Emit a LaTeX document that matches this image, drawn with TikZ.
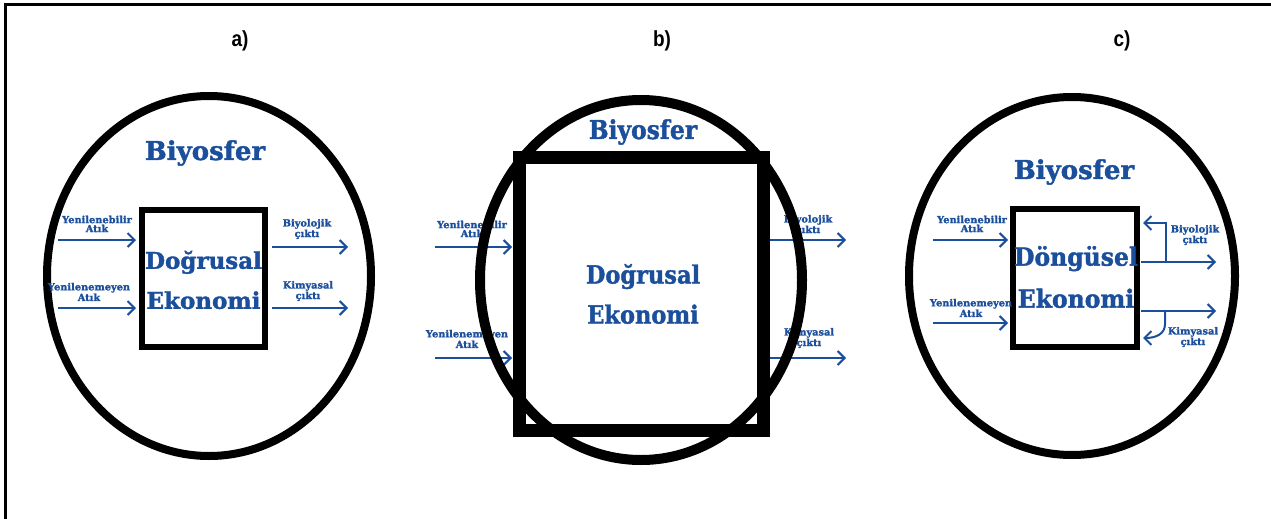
\documentclass[tikz,border=0pt]{standalone}
\usepackage{fontspec}
\setmainfont{DejaVu Serif}
\newfontfamily\heavyserif[FakeBold=1.6]{DejaVu Serif Bold}
\newfontfamily\lblfont{Liberation Sans}
\usetikzlibrary{arrows.meta}
\definecolor{bioblue}{HTML}{1B4F9C}
\tikzset{
  frameline/.style={line width=3pt, black},
  biosphere/.style={draw=black, line width=8pt},
  flow/.style={draw=bioblue, line width=2pt, -{Straight Barb[length=7pt,width=14pt,line width=2pt]}},
  small/.style={text=bioblue, font=\heavyserif\fontsize{9.8}{9}\selectfont, align=center, inner sep=0pt},
  big/.style={text=bioblue, font=\heavyserif\fontsize{24}{32}\selectfont, align=center, inner sep=0pt},
  panel/.style={font=\lblfont\bfseries\fontsize{19}{19}\selectfont, inner sep=0pt, yscale=1.15}
}
\begin{document}
\begin{tikzpicture}[x=1pt,y=-1pt]
\useasboundingbox (0,0) rectangle (1271,519);
% frame (top and left only)
\coordinate (f1) at (1271,5);
\coordinate (f0) at (5,5);
\coordinate (f2) at (5,519);
\draw[frameline] (f1) -- (f0) -- (f2);
% panel labels
\node[panel] (la) at (240,41) {a)};
\node[panel] (lb) at (662,41) {b)};
\node[panel] (lc) at (1122,41) {c)};

% ================= panel a =================
\draw[biosphere] (209,276) ellipse [x radius=162, y radius=180];
\node[draw=black, line width=6pt, minimum width=123pt, minimum height=137pt, inner sep=0pt] (boxa) at (203.5,278.5) {};
\node[big, font=\heavyserif\fontsize{26}{32}\selectfont] (bioa) at (205,153) {Biyosfer};
\node[big, font=\heavyserif\fontsize{23}{40}\selectfont] (eca) at (203.5,280) {Doğrusal\\Ekonomi};
\node[small] (ya1) at (97,224) {Yenilenebilir\\Atık};
\node[small] (ya2) at (89,292) {Yenilenemeyen\\Atık};
\node[small] (oa1) at (307,229) {Biyolojik\\çıktı};
\node[small] (oa2) at (308,291) {Kimyasal\\çıktı};
\coordinate (a1s) at (58,240); \coordinate (a1e) at (136,240);
\coordinate (a2s) at (58,308); \coordinate (a2e) at (136,308);
\coordinate (a3s) at (272,247); \coordinate (a3e) at (348,247);
\coordinate (a4s) at (272,308); \coordinate (a4e) at (348,308);
\draw[flow] (a1s) -- (a1e);
\draw[flow] (a2s) -- (a2e);
\draw[flow] (a3s) -- (a3e);
\draw[flow] (a4s) -- (a4e);

% ================= panel b =================
\node[small] (yb1) at (472,229) {Yenilenebilir\\Atık};
\node[small] (yb2) at (467,339) {Yenilenemeyen\\Atık};
\node[small] (ob1) at (808,225) {Biyolojik\\çıktı};
\node[small] (ob2) at (809,338) {Kimyasal\\çıktı};
\coordinate (b1s) at (435,247); \coordinate (b1e) at (512,247);
\coordinate (b2s) at (435,358); \coordinate (b2e) at (512,358);
\coordinate (b3s) at (769,240); \coordinate (b3e) at (846,240);
\coordinate (b4s) at (769,358); \coordinate (b4e) at (846,358);
\draw[flow] (b1s) -- (b1e);
\draw[flow] (b2s) -- (b2e);
\draw[flow] (b3s) -- (b3e);
\draw[flow] (b4s) -- (b4e);
\draw[biosphere, line width=10pt] (641,280) ellipse [x radius=161, y radius=180];
\node[draw=black, line width=13pt, minimum width=244pt, minimum height=273pt, inner sep=0pt] (boxb) at (641,293.5) {};
\node[big, xscale=0.9, font=\heavyserif\fontsize{26}{34}\selectfont] (biob) at (643,132) {Biyosfer};
\node[big, xscale=0.9, font=\heavyserif\fontsize{25}{40}\selectfont] (ecb) at (643,294) {Doğrusal\\Ekonomi};

% ================= panel c =================
\draw[biosphere] (1072,276) ellipse [x radius=163, y radius=179];
\node[draw=black, line width=6pt, minimum width=124pt, minimum height=138pt, inner sep=0pt] (boxc) at (1075,278) {};
\node[big, font=\heavyserif\fontsize{26}{34}\selectfont] (bioc) at (1074,172) {Biyosfer};
\node[big, xscale=0.94, font=\heavyserif\fontsize{25}{42}\selectfont] (ecc) at (1076,277) {Döngüsel\\Ekonomi};
\node[small] (yc1) at (972,224) {Yenilenebilir\\Atık};
\node[small] (yc2) at (971,308) {Yenilenemeyen\\Atık};
\node[small] (oc1) at (1195,235) {Biyolojik\\çıktı};
\node[small] (oc2) at (1193,337) {Kimyasal\\çıktı};
\coordinate (c1s) at (933,240); \coordinate (c1e) at (1008,240);
\coordinate (c2s) at (933,323); \coordinate (c2e) at (1008,323);
\coordinate (c3s) at (1141,262); \coordinate (c3e) at (1216,262);
\coordinate (c4s) at (1141,311); \coordinate (c4e) at (1216,311);
\coordinate (cb1) at (1166,262); \coordinate (cb2) at (1166,223); \coordinate (cb3) at (1143,223);
\coordinate (ck1) at (1165,311); \coordinate (ck2) at (1143,338);
\draw[flow] (c1s) -- (c1e);
\draw[flow] (c2s) -- (c2e);
\draw[flow] (c3s) -- (c3e);
\draw[flow] (c4s) -- (c4e);
\draw[flow] (cb1) -- (cb2) -- (cb3);
\draw[flow] (ck1) -- (1165,324) .. controls (1165,334) and (1156,338) .. (ck2);
\end{tikzpicture}
\end{document}
